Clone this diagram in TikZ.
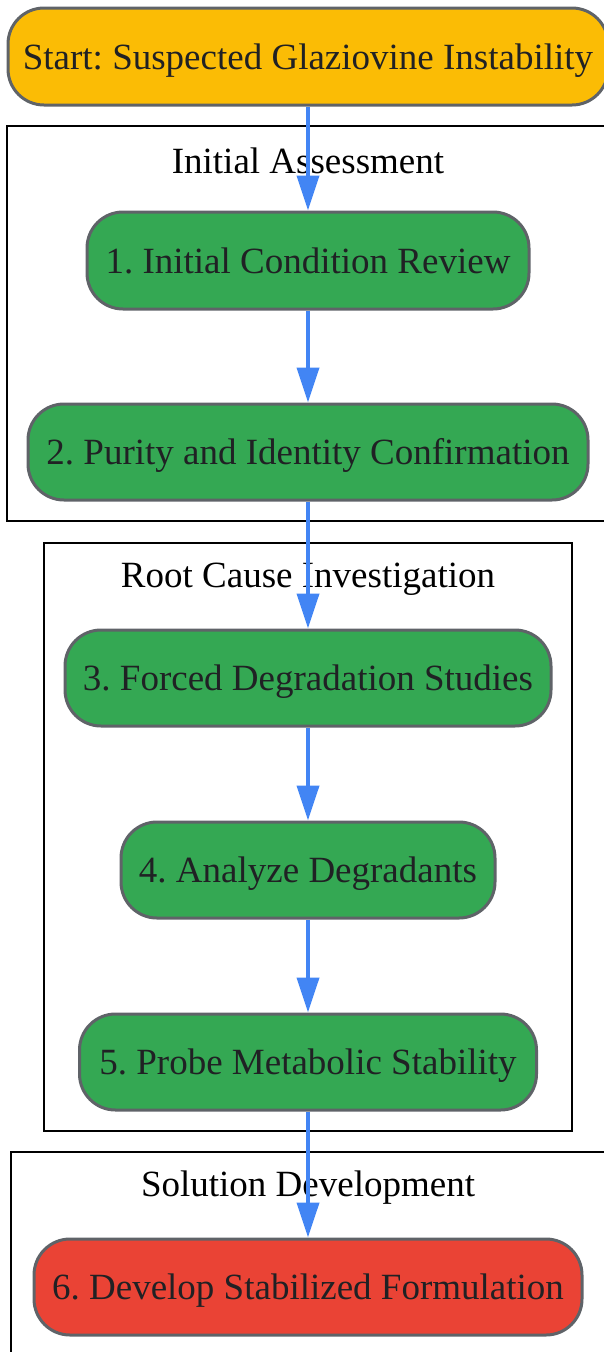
\documentclass[tikz,border=0pt]{standalone}
\usepackage{fontspec}
\setmainfont{Liberation Serif}
\frenchspacing
\usetikzlibrary{arrows.meta}
\definecolor{cyellow}{HTML}{FBBC05}
\definecolor{cgreen}{HTML}{34A853}
\definecolor{cred}{HTML}{EA4335}
\definecolor{cborder}{HTML}{5F6368}
\definecolor{ctext}{HTML}{202124}
\definecolor{cblue}{HTML}{4285F4}
\tikzset{
  stepbox/.style={draw=cborder, line width=3pt, rounded corners=36pt, inner sep=0pt,
    minimum height=96pt, text=ctext, text height=26pt, text depth=1pt,
    font=\fontsize{37}{44}\selectfont},
  clusterbox/.style={draw=black, line width=1.6pt},
  clustertitle/.style={font=\fontsize{37}{44}\selectfont, text=black, inner sep=0pt},
  flow/.style={draw=cblue, line width=4pt, -{Triangle[length=35pt,width=22pt]}}
}
\begin{document}
\begin{tikzpicture}[x=1pt,y=-1pt]
\useasboundingbox (0,0) rectangle (604,1352);
% clusters
\draw[clusterbox] (7,126) rectangle (612,521);
\draw[clusterbox] (44,543) rectangle (572,1131);
\draw[clusterbox] (11,1152) rectangle (612,1362);
\node[clustertitle] (t1) at (308,161) {Initial Assessment};
\node[clustertitle] (t2) at (308,579) {Root Cause Investigation};
\node[clustertitle] (t3) at (308,1188) {Solution Development};
% nodes
\node[stepbox, fill=cyellow, minimum width=600pt, minimum height=97pt] (s) at (308,56.5) {Start: Suspected Glaziovine Instability};
\node[stepbox, fill=cgreen, minimum width=442pt, minimum height=97pt] (n1) at (308,260.5) {1. Initial Condition Review};
\node[stepbox, fill=cgreen, minimum width=560pt] (n2) at (308,452) {2. Purity and Identity Confirmation};
\node[stepbox, fill=cgreen, minimum width=486pt] (n3) at (308,678) {3. Forced Degradation Studies};
\node[stepbox, fill=cgreen, minimum width=374pt] (n4) at (308,870) {4. Analyze Degradants};
\node[stepbox, fill=cgreen, minimum width=457pt] (n5) at (308,1062) {5. Probe Metabolic Stability};
\node[stepbox, fill=cred, minimum width=548pt] (n6) at (308,1287) {6. Develop Stabilized Formulation};
% connectors
\draw[flow] (s.south) -- (n1.north);
\draw[flow] (n1.south) -- (n2.north);
\draw[flow] (n2.south) -- (n3.north);
\draw[flow] (n3.south) -- (n4.north);
\draw[flow] (n4.south) -- (n5.north);
\draw[flow] (n5.south) -- (n6.north);
\end{tikzpicture}
\end{document}
